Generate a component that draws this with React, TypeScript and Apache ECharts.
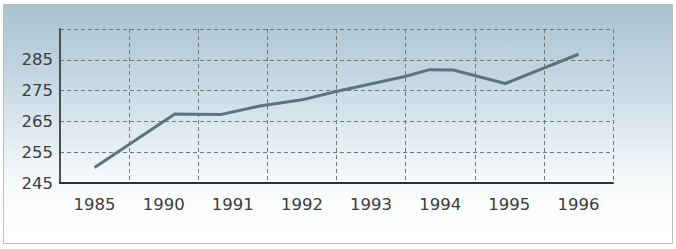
import React, { useEffect, useRef } from "react";
import * as echarts from "echarts";

const years = ["1985", "1990", "1991", "1992", "1993", "1994", "1995", "1996"];
const yTicks = [245, 255, 265, 275, 285, 295];
// line vertices: position along the category axis (index units) and value
const lineX = [0, 1.16, 1.82, 2.39, 3.0, 3.51, 4.49, 4.85, 5.19, 5.94, 7.0];
const lineY = [250, 267.4, 267.2, 270, 272, 274.8, 279.6, 281.8, 281.7, 277.3, 286.8];

export default function App() {
  const ref = useRef<HTMLDivElement>(null);
  useEffect(() => {
    if (!ref.current) return;
    const chart = echarts.init(ref.current, undefined, { renderer: "svg" });
    const dash = { color: "#6f777b", width: 1, type: [4, 3] as number[] };
    chart.setOption({
      animation: false,
      backgroundColor: "#ffffff",
      graphic: [
        {
          type: "rect",
          left: 3,
          top: 4,
          z: -10,
          silent: true,
          shape: { width: 669, height: 239 },
          style: {
            fill: new echarts.graphic.LinearGradient(0, 0, 0, 1, [
              { offset: 0, color: "#a9c2d0" },
              { offset: 0.3, color: "#c3d7e2" },
              { offset: 0.62, color: "#e9f1f5" },
              { offset: 0.8, color: "#fbfdfd" },
              { offset: 1, color: "#ffffff" },
            ]),
            stroke: "#b8bcbe",
            lineWidth: 1,
          },
        },
      ],
      grid: { left: 60, right: 63, top: 29, bottom: 66, containLabel: false },
      xAxis: [
        {
          type: "category",
          data: years,
          boundaryGap: true,
          axisLine: { show: true, onZero: false, lineStyle: { color: "#2e3234", width: 2 } },
          axisTick: { show: false },
          axisLabel: {
            fontFamily: "DejaVu Sans",
            fontSize: 16.5,
            color: "#3a3c3d",
            margin: 13,
          },
          splitLine: { show: true, lineStyle: dash },
        },
        {
          type: "value",
          min: -0.5,
          max: 7.5,
          show: false,
        },
      ],
      yAxis: {
        type: "value",
        min: yTicks[0],
        max: yTicks[yTicks.length - 1],
        interval: 10,
        axisLine: { show: true, onZero: false, lineStyle: { color: "#4a4f52", width: 2 } },
        axisTick: { show: false },
        axisLabel: {
          fontFamily: "DejaVu Sans",
          fontSize: 16.5,
          color: "#3a3c3d",
          margin: 7,
          formatter: (v: number) => (v === yTicks[yTicks.length - 1] ? "" : String(v)),
        },
        splitLine: { show: true, lineStyle: dash },
      },
      series: [
        {
          type: "line",
          xAxisIndex: 1,
          data: lineX.map((x, i) => [x, lineY[i]]),
          symbol: "none",
          lineStyle: { color: "#5b757f", width: 3 },
          z: 5,
        },
      ],
    });
    return () => chart.dispose();
  }, []);
  return (
    <div
      ref={ref}
      style={{ position: "fixed", left: 0, top: 0, width: 676, height: 249 }}
    />
  );
}
